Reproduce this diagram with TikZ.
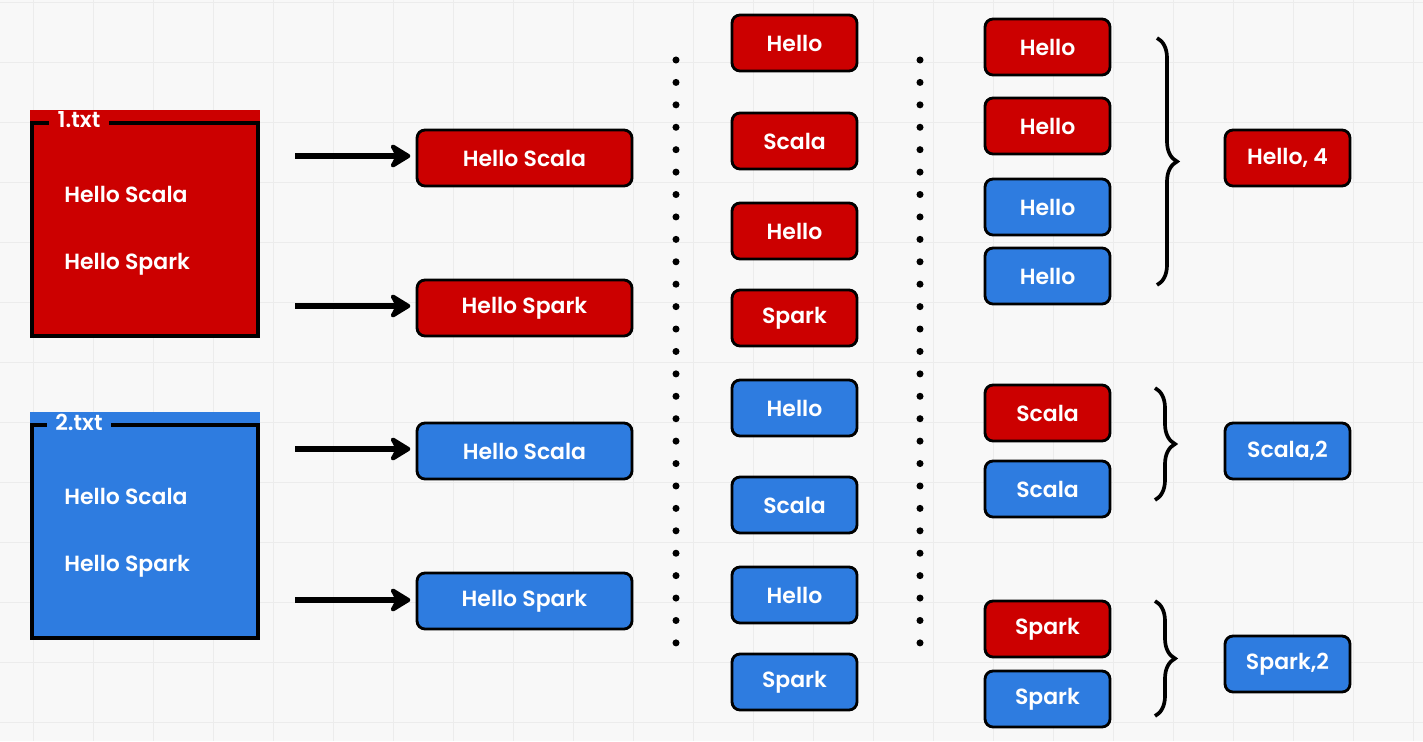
\documentclass[tikz,border=0pt]{standalone}
\usepackage{fontspec}
\setmainfont{Poppins}[BoldFont={Poppins SemiBold}]
\usetikzlibrary{positioning, arrows.meta, decorations.pathreplacing}
\definecolor{boxred}{RGB}{204,0,0}
\definecolor{boxblue}{RGB}{46,124,224}
\definecolor{paper}{RGB}{248,248,248}
\definecolor{gridline}{RGB}{236,236,236}
\tikzset{
  word/.style={draw=black, line width=1.6pt, rounded corners=0.16cm,
    minimum width=2.5cm, minimum height=1.12cm, inner sep=0pt,
    text=white, font=\fontsize{12.5}{14}\selectfont\bfseries},
  linebox/.style={word, minimum width=4.3cm},
  filetext/.style={text=white, inner sep=0pt, font=\fontsize{12.5}{14}\selectfont\bfseries},
  frame/.style={draw=black, line width=2.2pt},
  arr/.style={line width=3pt, -{Stealth[length=14pt, width=17pt, round]}, shorten >=3pt},
  dotline/.style={line width=4pt, line cap=round, dash pattern=on 0pt off 12.76pt},
  grouping/.style={line width=2.1pt, decorate, decoration={brace, amplitude=#1}},
}
\begin{document}
\begin{tikzpicture}[x=0.02cm, y=-0.02cm]
            \fill[paper] (0,0) rectangle (1423,741);
            \useasboundingbox (0,0) rectangle (1423,741);
            \foreach \gx in {33,93,...,1413} \draw[gridline, line width=0.5pt] (\gx,0) -- (\gx,741);
            \foreach \gy in {2,62,...,741} \draw[gridline, line width=0.5pt] (0,\gy) -- (1423,\gy);
            % input files
            \fill[boxred] (30,110) rectangle (260,338);
            \draw[frame] (32,123) rectangle (258,336);
            \node[filetext, fill=boxred, inner xsep=5pt, inner ysep=1pt] (f1) at (79,120) {1.txt};
            \node[filetext, anchor=west] (f1a) at (64,194) {Hello Scala};
            \node[filetext, anchor=west] (f1b) at (64,264) {Hello Spark};
            \fill[boxblue] (30,412) rectangle (260,640);
            \draw[frame] (32,425) rectangle (258,638);
            \node[filetext, fill=boxblue, inner xsep=5pt, inner ysep=1pt] (f2) at (79,422) {2.txt};
            \node[filetext, anchor=west] (f2a) at (64,496) {Hello Scala};
            \node[filetext, anchor=west] (f2b) at (64,566) {Hello Spark};
            % lines
            \node[linebox, fill=boxred] (l1) at (524.5,158) {Hello Scala};
            \node[linebox, fill=boxred] (l2) at (524.5,308) {Hello Spark};
            \node[linebox, fill=boxblue] (l3) at (524.5,451) {Hello Scala};
            \node[linebox, fill=boxblue] (l4) at (524.5,601) {Hello Spark};
            \coordinate (a1) at (295,156);
            \coordinate (a2) at (295,306);
            \coordinate (a3) at (295,449);
            \coordinate (a4) at (295,600);
            \draw[arr] (a1) -- (a1 -| l1.west);
            \draw[arr] (a2) -- (a2 -| l2.west);
            \draw[arr] (a3) -- (a3 -| l3.west);
            \draw[arr] (a4) -- (a4 -| l4.west);
            % split words
            \draw[dotline] (676,60) -- (676,648);
            \node[word, fill=boxred] (w1) at (794.5,43) {Hello};
            \node[word, fill=boxred] (w2) at (794.5,141) {Scala};
            \node[word, fill=boxred] (w3) at (794.5,231) {Hello};
            \node[word, fill=boxred] (w4) at (794.5,318) {Spark};
            \node[word, fill=boxblue] (w5) at (794.5,408) {Hello};
            \node[word, fill=boxblue] (w6) at (794.5,505) {Scala};
            \node[word, fill=boxblue] (w7) at (794.5,595) {Hello};
            \node[word, fill=boxblue] (w8) at (794.5,682) {Spark};
            \draw[dotline] (920,60) -- (920,648);
            % grouped words
            \node[word, fill=boxred] (g1) at (1047.5,47) {Hello};
            \node[word, fill=boxred] (g2) at (1047.5,126) {Hello};
            \node[word, fill=boxblue] (g3) at (1047.5,207) {Hello};
            \node[word, fill=boxblue] (g4) at (1047.5,276) {Hello};
            \node[word, fill=boxred] (g5) at (1047.5,413) {Scala};
            \node[word, fill=boxblue] (g6) at (1047.5,489) {Scala};
            \node[word, fill=boxred] (g7) at (1047.5,629) {Spark};
            \node[word, fill=boxblue] (g8) at (1047.5,699) {Spark};
            \draw[grouping=0.4cm] (1157,38) -- (1157,285);
            \draw[grouping=0.4cm] (1155,388) -- (1155,500);
            \draw[grouping=0.4cm] (1155,601) -- (1155,716);
            % counts
            \node[word, fill=boxred] (c1) at (1287.5,158) {Hello, 4};
            \node[word, fill=boxblue] (c2) at (1287.5,451) {Scala,2};
            \node[word, fill=boxblue] (c3) at (1287.5,664) {Spark,2};
        \end{tikzpicture}
\end{document}
